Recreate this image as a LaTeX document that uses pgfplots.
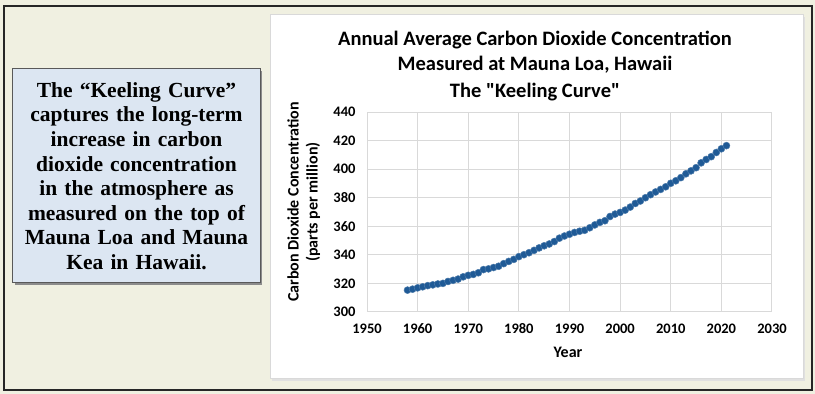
\documentclass[border=0pt]{standalone}
\usepackage{fontspec}
\setmainfont{Liberation Serif}
\newfontfamily\carlito{Carlito}
\usepackage{pgfplots}
\pgfplotsset{compat=1.18}
\definecolor{bgbeige}{HTML}{F0F0E1}
\definecolor{boxblue}{HTML}{DCE6F2}
\definecolor{markblue}{HTML}{1F5A96}
\definecolor{gridgray}{HTML}{D9D9D9}
\begin{document}
\begin{tikzpicture}[x=1pt,y=1pt]
% background and frames
\fill[bgbeige] (0,0) rectangle (815,394);
\draw[line width=2pt,color=black!85] (4,4) rectangle (812,388);
\fill[black!12] (272,13) rectangle (805,377);
\filldraw[fill=white,draw=gridgray,line width=1pt] (270,15) rectangle (803,379);
% left text box
\fill[black!45] (14.5,109) rectangle (262,323);
\filldraw[fill=boxblue,draw=black!65,line width=1pt] (12.5,111) rectangle (260,325);
\node[font=\fontsize{21.5}{24.6}\selectfont\bfseries,align=center,anchor=center,text width=250pt] at (136.5,218)
{The “Keeling Curve”\\captures the long-term\\increase in carbon\\dioxide concentration\\in the atmosphere as\\measured on the top of\\Mauna Loa and Mauna\\Kea in Hawaii.};
% titles
\node[font=\carlito\fontsize{20.5}{24}\selectfont\bfseries] at (535,354) {Annual Average Carbon Dioxide Concentration};
\node[font=\carlito\fontsize{20.5}{24}\selectfont\bfseries] at (535,329) {Measured at Mauna Loa, Hawaii};
\node[font=\carlito\fontsize{20.5}{24}\selectfont\bfseries] at (535,302) {The "Keeling Curve"};
\node[font=\carlito\fontsize{16}{18}\selectfont\bfseries,rotate=90] at (293,192) {Carbon Dioxide Concentration};
\node[font=\carlito\fontsize{16}{18}\selectfont\bfseries,rotate=90] at (313,192) {(parts per million)};
\node[font=\carlito\fontsize{16}{18}\selectfont\bfseries] at (568,42) {Year};
\begin{axis}[
  at={(367pt,82pt)}, anchor=south west,
  scale only axis, width=405pt, height=200pt,
  xmin=1950, xmax=2030, ymin=300, ymax=440,
  xtick={1950,1960,...,2030}, ytick={300,320,...,440},
  grid=major, major grid style={gridgray,line width=1pt},
  axis line style={gridgray,line width=1pt},
  tick style={draw=none},
  /pgf/number format/1000 sep={},
  /pgf/number format/assume math mode=true,
  ticklabel style={font=\carlito\fontsize{14.5}{16}\selectfont\bfseries},
  xticklabel style={yshift=-8pt},
  yticklabel style={xshift=-8pt},
]
\addplot[only marks, mark=*, mark size=3.5pt, mark options={fill=markblue,draw=markblue!80!white,line width=0.5pt}] coordinates {
(1958,315.3)(1959,315.98)(1960,316.91)(1961,317.64)(1962,318.45)(1963,318.99)(1964,319.62)(1965,320.04)(1966,321.37)(1967,322.18)(1968,323.05)(1969,324.62)(1970,325.68)(1971,326.32)(1972,327.46)(1973,329.68)(1974,330.19)(1975,331.13)(1976,332.03)(1977,333.84)(1978,335.41)(1979,336.84)(1980,338.76)(1981,340.12)(1982,341.48)(1983,343.15)(1984,344.87)(1985,346.35)(1986,347.61)(1987,349.31)(1988,351.69)(1989,353.20)(1990,354.45)(1991,355.70)(1992,356.54)(1993,357.21)(1994,358.96)(1995,360.97)(1996,362.74)(1997,363.88)(1998,366.84)(1999,368.54)(2000,369.71)(2001,371.32)(2002,373.45)(2003,375.98)(2004,377.70)(2005,379.98)(2006,382.09)(2007,384.02)(2008,385.83)(2009,387.64)(2010,390.10)(2011,391.85)(2012,394.06)(2013,396.74)(2014,398.81)(2015,401.01)(2016,404.41)(2017,406.76)(2018,408.72)(2019,411.66)(2020,414.24)(2021,416.45)
};
\end{axis}
\end{tikzpicture}
\end{document}
